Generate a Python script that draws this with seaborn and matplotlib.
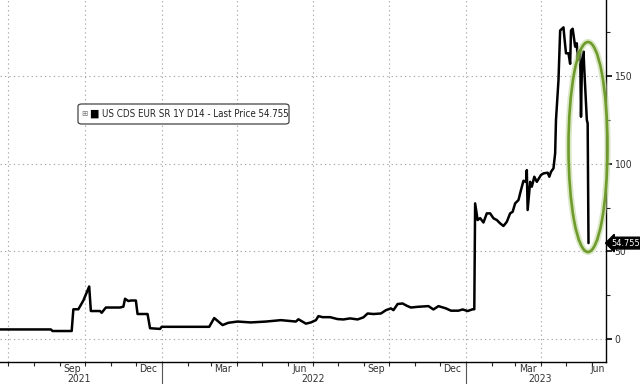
import matplotlib
matplotlib.use("Agg")
import matplotlib.pyplot as plt
import matplotlib.dates as mdates
import matplotlib.transforms as mtransforms
from matplotlib.patches import Ellipse, FancyBboxPatch
import pandas as pd
import seaborn as sns

# ---------------- data ----------------
dates = [
    "2021-06-21", "2021-08-21", "2021-08-23", "2021-09-15", "2021-09-17", "2021-09-23",
    "2021-09-29", "2021-10-06", "2021-10-08", "2021-10-19", "2021-10-21", "2021-10-26",
    "2021-11-12", "2021-11-16", "2021-11-18", "2021-11-22", "2021-11-25", "2021-12-01",
    "2021-12-03", "2021-12-15", "2021-12-18", "2021-12-30", "2022-01-01", "2022-02-27",
    "2022-03-05", "2022-03-15", "2022-03-22", "2022-04-02", "2022-04-18", "2022-05-06",
    "2022-05-24", "2022-06-11", "2022-06-14", "2022-06-23", "2022-06-29", "2022-07-05",
    "2022-07-08", "2022-07-13", "2022-07-22", "2022-07-31", "2022-08-07", "2022-08-15",
    "2022-08-24", "2022-08-31", "2022-09-05", "2022-09-12", "2022-09-21", "2022-09-27",
    "2022-10-03", "2022-10-06", "2022-10-11", "2022-10-17", "2022-10-22", "2022-10-27",
    "2022-11-04", "2022-11-17", "2022-11-23", "2022-11-29", "2022-12-08", "2022-12-14",
    "2022-12-23", "2022-12-28", "2023-01-03", "2023-01-09", "2023-01-11", "2023-01-12",
    "2023-01-15", "2023-01-18", "2023-01-22", "2023-01-26", "2023-01-30", "2023-02-03",
    "2023-02-07", "2023-02-11", "2023-02-15", "2023-02-19", "2023-02-23", "2023-02-26",
    "2023-03-01", "2023-03-05", "2023-03-08", "2023-03-11", "2023-03-14", "2023-03-15",
    "2023-03-16", "2023-03-19", "2023-03-21", "2023-03-24", "2023-03-27", "2023-04-01",
    "2023-04-04", "2023-04-09", "2023-04-11", "2023-04-13", "2023-04-16", "2023-04-18",
    "2023-04-19", "2023-04-22", "2023-04-24", "2023-04-28", "2023-04-29", "2023-05-01",
    "2023-05-04", "2023-05-06", "2023-05-07", "2023-05-09", "2023-05-12", "2023-05-14",
    "2023-05-15", "2023-05-18", "2023-05-19", "2023-05-20", "2023-05-22", "2023-05-23",
    "2023-05-26", "2023-05-27", "2023-05-28",
]
values = [
    5.5, 5.5, 4.6, 4.6, 17.0, 17.0,
    22.0, 30.0, 16.0, 16.0, 15.0, 18.0,
    18.0, 18.5, 23.0, 21.7, 22.0, 22.0,
    14.3, 14.3, 6.2, 5.8, 7.0, 7.0,
    12.0, 8.0, 9.3, 10.0, 9.5, 10.0,
    10.8, 10.0, 11.3, 8.8, 9.5, 10.8,
    13.1, 12.5, 12.5, 11.4, 11.2, 11.8,
    11.2, 12.4, 14.6, 14.3, 14.6, 16.5,
    17.5, 16.5, 20.0, 20.3, 19.0, 18.0,
    18.4, 18.8, 16.9, 18.8, 17.5, 16.2,
    16.2, 16.9, 16.0, 17.0, 17.0, 77.4,
    67.9, 69.0, 66.5, 71.7, 71.7, 68.9,
    67.9, 66.0, 64.5, 66.9, 71.7, 72.6,
    77.4, 79.3, 85.0, 90.3, 89.6, 96.4,
    73.6, 89.7, 86.9, 92.6, 89.7, 93.6,
    94.5, 94.9, 92.6, 95.4, 97.4, 106.0,
    125.0, 147.7, 176.0, 177.8, 172.5, 163.0,
    163.0, 157.0, 176.0, 177.0, 166.8, 168.7,
    159.0, 164.9, 126.8, 153.5, 164.0, 153.5,
    125.0, 123.0, 54.755,
]
series_name = "US CDS EUR SR 1Y D14 - Last Price 54.755"
last_label = "54.755"
month_labels = ["Sep", "Dec", "Mar", "Jun", "Sep", "Dec", "Mar", "Jun"]
month_label_dates = ["2021-09-16", "2021-12-16", "2022-03-16", "2022-06-15",
                     "2022-09-15", "2022-12-16", "2023-03-16", "2023-06-08"]
year_labels = ["2021", "2022", "2023"]
year_label_dates = ["2021-09-24", "2022-07-02", "2023-03-31"]
year_breaks = ["2022-01-01", "2023-01-01"]
y_major = [0, 50, 100, 150]
y_minor = [25, 75, 125, 175]

df = pd.DataFrame({"date": pd.to_datetime(dates), "value": values})

# ---------------- figure ----------------
sns.set_style("white")
plt.rcParams["font.family"] = ["DejaVu Sans"]
plt.rcParams["font.stretch"] = "condensed"

W, H = 640, 384
fig = plt.figure(figsize=(W / 100, H / 100), dpi=100)
ax = fig.add_axes([0, 1 - 361.7 / H, 606 / W, 361.7 / H])

sns.lineplot(data=df, x="date", y="value", ax=ax, color="black", linewidth=1.8, zorder=5)

ax.set_xlim(pd.Timestamp("2021-06-21"), pd.Timestamp("2023-06-18"))
ax.set_ylim(-12.9, 193.4)
ax.set_xlabel("")
ax.set_ylabel("")

for s in ["left", "top"]:
    ax.spines[s].set_visible(False)
for s in ["right", "bottom"]:
    ax.spines[s].set_visible(True)
    ax.spines[s].set_color("black")
    ax.spines[s].set_linewidth(1.0)

# horizontal dotted grid
for v in y_major:
    ax.axhline(v, color="#a8a8a8", lw=0.8, ls=(0, (1.2, 2.8)), zorder=1)
# vertical dotted grid at quarter starts
for q in pd.date_range("2021-07-01", "2023-04-01", freq="QS"):
    ax.axvline(q, color="#a8a8a8", lw=0.8, ls=(0, (1.2, 2.8)), zorder=1)

fs = 7.5
# y axis on right
ax.yaxis.tick_right()
ax.set_yticks(y_major)
ax.set_yticks(y_minor, minor=True)
ax.tick_params(axis="y", which="major", direction="out", length=4, width=1.2,
               pad=2, labelsize=fs, labelcolor="#333333", colors="black")
ax.tick_params(axis="y", which="major", labelcolor="#333333")
ax.tick_params(axis="y", which="minor", direction="out", length=3, width=0.8)
ax.tick_params(axis="y", which="both", left=False, right=True)

# x axis: month ticks (minor) and mid-month labels (major)
ax.set_xticks(pd.to_datetime(month_label_dates))
ax.set_xticklabels(month_labels)
ax.xaxis.set_minor_locator(mdates.MonthLocator())
ax.tick_params(axis="x", which="major", length=0, pad=2, labelsize=fs, labelcolor="#333333")
ax.tick_params(axis="x", which="minor", direction="out", length=3, width=0.8, bottom=True)

trans = mtransforms.blended_transform_factory(ax.transData, ax.transAxes)
for lab, d in zip(year_labels, year_label_dates):
    ax.text(pd.Timestamp(d), -0.047, lab, transform=trans, ha="center", va="center",
            fontsize=fs, color="#333333", clip_on=False)
for d in year_breaks:
    ax.plot([pd.Timestamp(d)] * 2, [0, -0.07], transform=trans, color="#555555",
            lw=0.8, clip_on=False)

# last price tag
ytrans = mtransforms.blended_transform_factory(ax.transAxes, ax.transData)
ax.text(1.0095, values[-1], last_label, transform=ytrans, ha="left", va="center",
        fontsize=6.6, color="white", zorder=10, clip_on=False,
        bbox=dict(boxstyle="larrow,pad=0.15", fc="black", ec="black"))

# legend box
box = FancyBboxPatch((78 / W, 1 - 124 / H), 211 / W, 20 / H,
                     boxstyle="round,pad=0,rounding_size=0.006",
                     transform=fig.transFigure, fc="white", ec="#444444", lw=0.9, zorder=20)
fig.patches.append(box)
fig.text(84 / W, 1 - 113.5 / H, "⊞", fontsize=6, color="#777777", ha="center",
         va="center", zorder=21)
fig.text(94 / W, 1 - 113.5 / H, "■", fontsize=8, color="black", ha="center",
         va="center", zorder=21)
fig.text(102 / W, 1 - 114 / H, series_name, fontsize=7.0, color="#222222", ha="left",
         va="center", zorder=21)

# green highlight ellipse
c = (588 / W, 1 - 147 / H)
for lw, col, a in [(4.5, "#bcd595", 0.55), (1.9, "#6f9b2c", 1.0)]:
    e = Ellipse(c, 39 / W, 210 / H, transform=fig.transFigure, fill=False,
                ec=col, lw=lw, alpha=a, zorder=30)
    fig.patches.append(e)

fig.savefig("out.png", dpi=100)
